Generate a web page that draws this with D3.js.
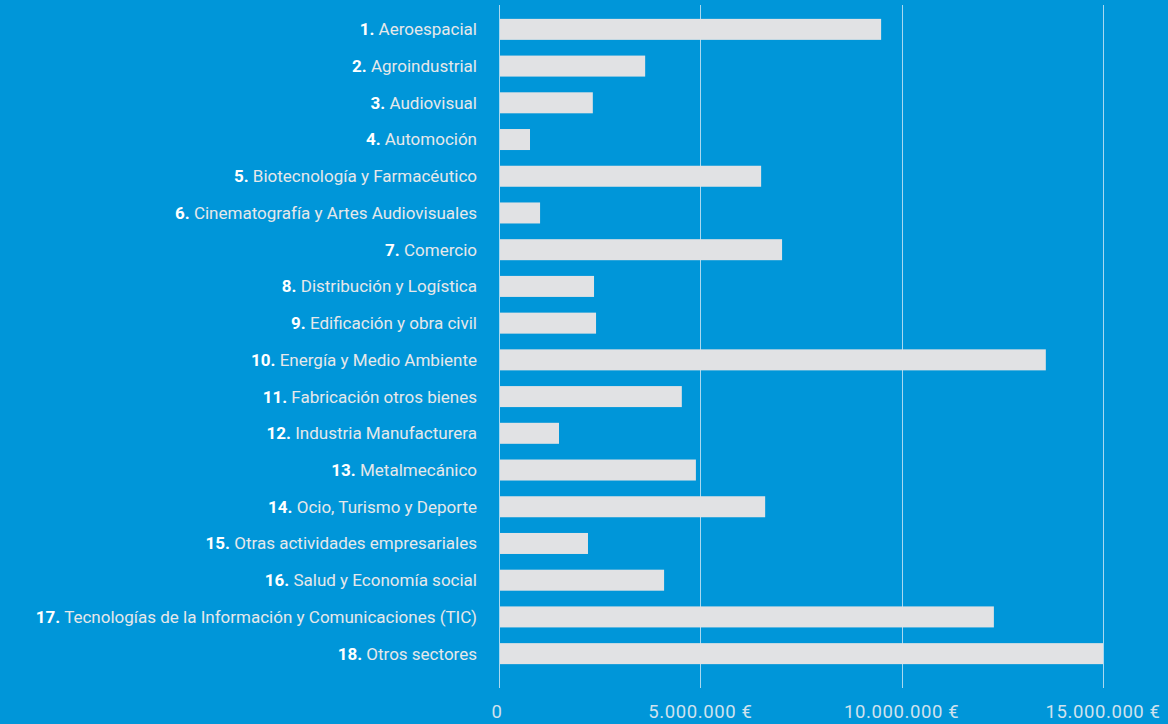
<!DOCTYPE html>
<html><head><meta charset="utf-8">
<script src="https://cdn.jsdelivr.net/npm/d3@7"></script>
<style>
html,body{margin:0;padding:0;background:#0096D9;}
svg{display:block;}
</style></head>
<body>
<svg id="c" width="1168" height="724"></svg>
<script>
const nums = ["1.","2.","3.","4.","5.","6.","7.","8.","9.","10.","11.","12.","13.","14.","15.","16.","17.","18."];
const categories = ["Aeroespacial","Agroindustrial","Audiovisual","Automoción","Biotecnología y Farmacéutico","Cinematografía y Artes Audiovisuales","Comercio","Distribución y Logística","Edificación y obra civil","Energía y Medio Ambiente","Fabricación otros bienes","Industria Manufacturera","Metalmecánico","Ocio, Turismo y Deporte","Otras actividades empresariales","Salud y Economía social","Tecnologías de la Información y Comunicaciones (TIC)","Otros sectores"];
const values = [9490000,3630000,2330000,770000,6510000,1020000,7030000,2360000,2410000,13580000,4540000,1490000,4890000,6610000,2210000,4100000,12290000,15000000];
const tickValues = [0,5000000,10000000,15000000];
const tickLabels = ["0","5.000.000 €","10.000.000 €","15.000.000 €"];

const svg = d3.select("#c");
const x = d3.scaleLinear().domain([0,15000000]).range([499,1103]);
const y = d3.scaleBand().domain(d3.range(categories.length)).range([11,672]).padding(0);
const barH = 21;
const font = "Roboto, 'Open Sans', sans-serif";

// gridlines
svg.append("g").selectAll("line").data(tickValues).join("line")
  .attr("x1",d=>Math.round(x(d))+0.5).attr("x2",d=>Math.round(x(d))+0.5)
  .attr("y1",5).attr("y2",688)
  .attr("stroke","#A8D8F0").attr("stroke-width",1);

// bars
svg.append("g").selectAll("rect").data(values).join("rect")
  .attr("x",x(0)+1)
  .attr("y",(d,i)=>y(i)+y.bandwidth()/2-barH/2)
  .attr("width",d=>x(d)-x(0)-1)
  .attr("height",barH)
  .attr("fill","#E1E2E4");

// labels
const lab = svg.append("g").selectAll("text").data(categories).join("text")
  .attr("x",477)
  .attr("y",(d,i)=>y(i)+y.bandwidth()/2)
  .attr("dy","0.35em")
  .attr("text-anchor","end")
  .attr("font-family",font)
  .attr("font-size",17)
  .attr("fill","#E6E8EA");
lab.append("tspan").attr("font-weight","bold").attr("fill","#FFFFFF").text((d,i)=>nums[i]);
lab.append("tspan").text(d=>" "+d);

// x axis labels
svg.append("g").selectAll("text").data(tickValues).join("text")
  .attr("x",(d,i)=>i===0?x(d)-2:x(d))
  .attr("y",712)
  .attr("dy","0.35em")
  .attr("text-anchor","middle")
  .attr("font-family",font)
  .attr("font-size",18.5)
  .attr("letter-spacing","0.6px")
  .attr("fill","#CFE2EE")
  .text((d,i)=>tickLabels[i]);
</script>
</body></html>
